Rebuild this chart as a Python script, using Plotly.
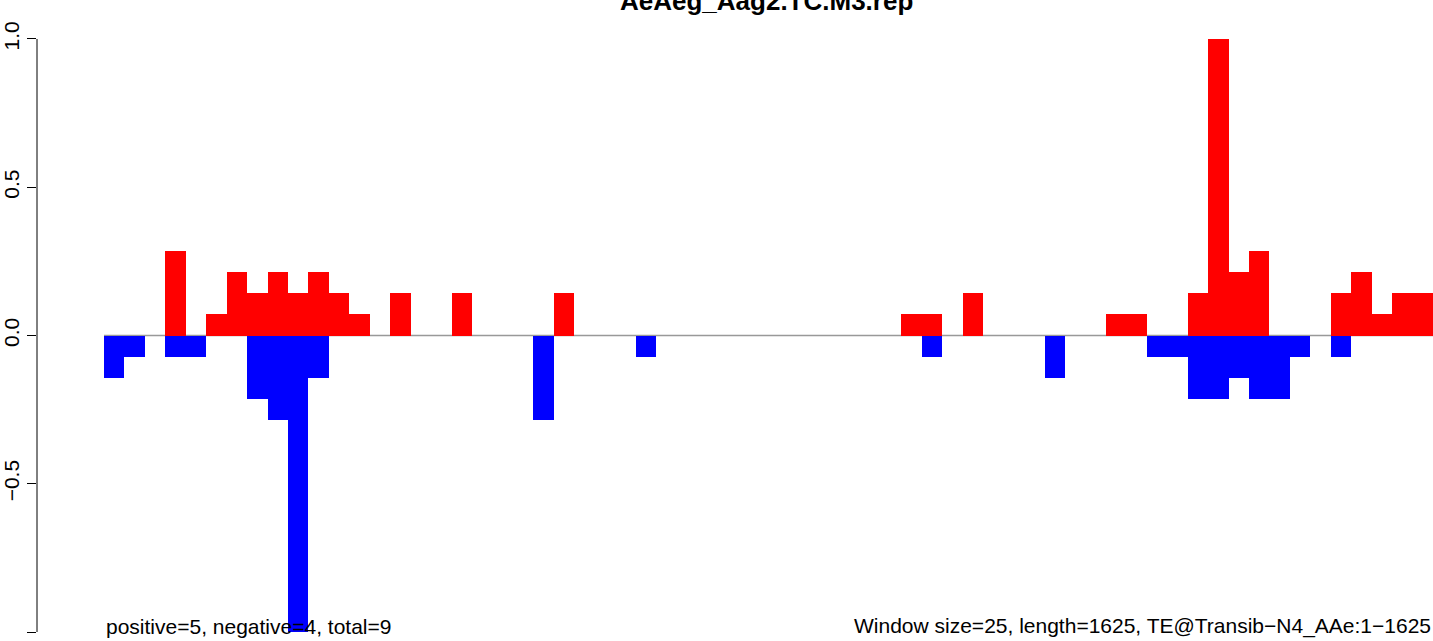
import plotly.graph_objects as go

# Window index (65 windows of 25 bp over 1625 bp)
window_index = list(range(65))

# Positive-strand (red) values per window
positive = [0, 0, 0, 0.2857, 0, 0.0714, 0.2143, 0.1429, 0.2143, 0.1429,
            0.2143, 0.1429, 0.0714, 0, 0.1429, 0, 0, 0.1429, 0, 0,
            0, 0, 0.1429, 0, 0, 0, 0, 0, 0, 0,
            0, 0, 0, 0, 0, 0, 0, 0, 0, 0.0714,
            0.0714, 0, 0.1429, 0, 0, 0, 0, 0, 0, 0.0714,
            0.0714, 0, 0, 0.1429, 1.0, 0.2143, 0.2857, 0, 0, 0,
            0.1429, 0.2143, 0.0714, 0.1429, 0.1429]

# Negative-strand (blue) values per window
negative = [-0.1429, -0.0714, 0, -0.0714, -0.0714, 0, 0, -0.2143, -0.2857, -1.0,
            -0.1429, 0, 0, 0, 0, 0, 0, 0, 0, 0,
            0, -0.2857, 0, 0, 0, 0, -0.0714, 0, 0, 0,
            0, 0, 0, 0, 0, 0, 0, 0, 0, 0,
            -0.0714, 0, 0, 0, 0, 0, -0.1429, 0, 0, 0,
            0, -0.0714, -0.0714, -0.2143, -0.2143, -0.1429, -0.2143, -0.2143, -0.0714, 0,
            -0.0714, 0, 0, 0, 0]

y_ticks = [-1.0, -0.5, 0.0, 0.5, 1.0]
y_tick_labels = ["\u22121.0", "\u22120.5", "0.0", "0.5", "1.0"]

title_text = "AeAeg_Aag2.TC.M3.rep"
left_note = "positive=5, negative=4, total=9"
right_note = "Window size=25, length=1625, TE@Transib\u2212N4_AAe:1\u22121625"

FONT = "Liberation Sans, Arial, Helvetica, sans-serif"
n = len(window_index)
xc = [i + 0.5 for i in window_index]

fig = go.Figure()
fig.add_trace(go.Bar(x=xc, y=positive, width=1, marker=dict(color="#FF0000", line=dict(width=0)),
                     showlegend=False, hoverinfo="skip"))
fig.add_trace(go.Bar(x=xc, y=negative, width=1, marker=dict(color="#0000FF", line=dict(width=0)),
                     showlegend=False, hoverinfo="skip"))

W, H = 1433, 641
ml = 37
fig.update_layout(
    width=W, height=H,
    margin=dict(l=ml, r=0, t=0, b=0, autoexpand=False),
    paper_bgcolor="white", plot_bgcolor="white",
    barmode="overlay", bargap=0,
    font=dict(family=FONT, size=21, color="black"),
    xaxis=dict(range=[-3.277, n], visible=False, showgrid=False, zeroline=False),
    yaxis=dict(range=[-1.0303, 1.1315], tickvals=y_ticks, ticktext=y_tick_labels,
               tickangle=-90, ticks="outside", ticklen=9, tickwidth=1, tickcolor="black",
               showline=False, showgrid=False, zeroline=False, automargin=False,
               tickfont=dict(family=FONT, size=21, color="black")),
    shapes=[
        dict(type="line", xref="x", yref="y", x0=0, x1=n, y0=0, y1=0,
             line=dict(color="#999999", width=1.5), layer="below"),
        dict(type="line", xref="paper", yref="y", x0=0, x1=0, y0=-1, y1=1,
             line=dict(color="black", width=1)),
    ],
    annotations=[
        dict(text="<b>" + title_text + "</b>", xref="paper", yref="paper",
             x=(767 - ml) / (W - ml), y=1.0, xanchor="center", yanchor="middle",
             yshift=-1, showarrow=False, font=dict(family=FONT, size=26, color="black")),
        dict(text=left_note, xref="x", yref="y", x=0, y=-1, xanchor="left", yanchor="middle",
             yshift=6, showarrow=False, font=dict(family=FONT, size=21, color="black")),
        dict(text=right_note, xref="x", yref="y", x=n, y=-1, xanchor="right", yanchor="middle",
             yshift=6, showarrow=False, font=dict(family=FONT, size=21, color="black")),
    ],
)

fig.write_html("out.html", config={"displayModeBar": False},
               post_script="document.body.style.margin='0px';document.body.style.overflow='hidden';")
